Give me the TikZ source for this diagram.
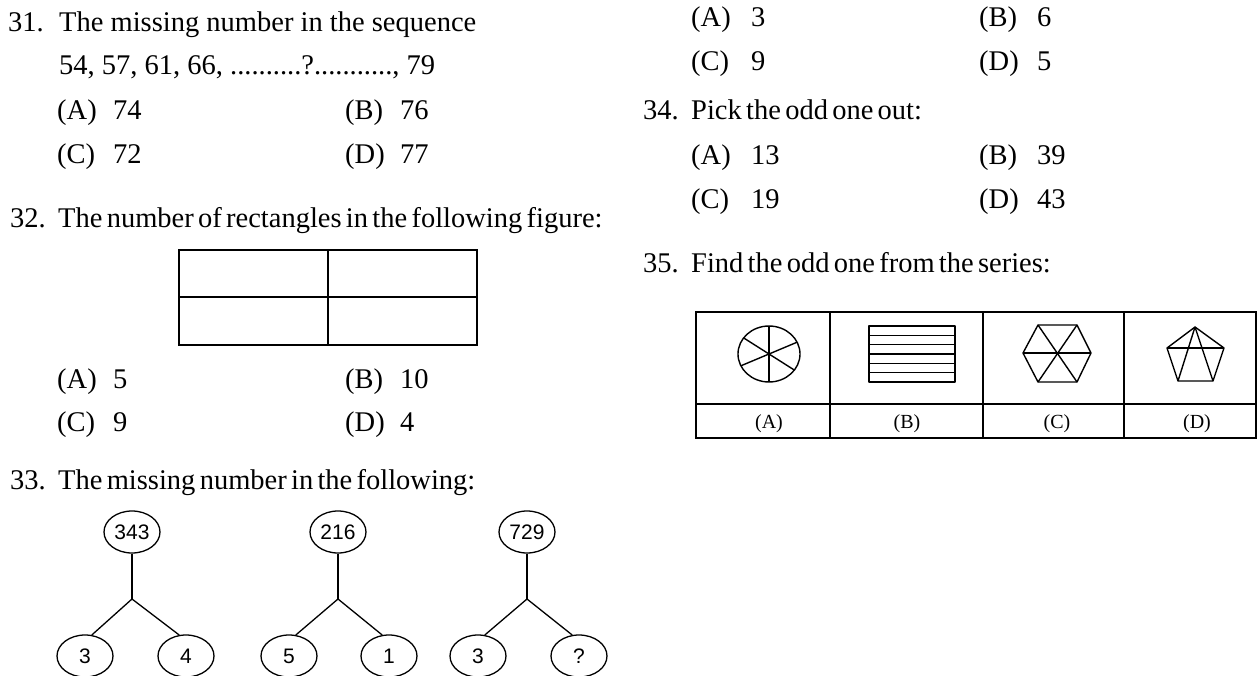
\documentclass[tikz,border=0pt]{standalone}
\usepackage{fontspec}
\setmainfont{Liberation Serif}
\newfontfamily\tightserif[WordSpace=0.6]{Liberation Serif}
\newfontfamily\treesans{Liberation Sans}
\usetikzlibrary{shapes.geometric}
\newcommand\qsize{\fontsize{28.5bp}{34bp}\selectfont}
\tikzset{
  qtext/.style={anchor=base west, inner sep=0pt, font=\qsize},
  qtight/.style={anchor=base west, inner sep=0pt, font=\tightserif\qsize},
  treenode/.style={draw, ellipse, minimum width=56bp, minimum height=42bp, inner sep=0pt, line width=1.3bp, font=\treesans\fontsize{21bp}{24bp}\selectfont},
  treeline/.style={line width=1.3bp},
  figline/.style={line width=1.8bp},
  shapeline/.style={line width=1.4bp, line join=round},
  tablabel/.style={anchor=base, inner sep=0pt, font=\fontsize{20bp}{24bp}\selectfont},
}
\begin{document}
\begin{tikzpicture}[x=1bp,y=-1bp]
\useasboundingbox[fill=white] (0,0) rectangle (1258,676);

% ---- Question 31 ----
\node[qtext] (q31n) at (8,32) {31.};
\node[qtext] (q31t) at (59,32) {The missing number in the sequence};
\node[qtext] (q31s) at (59,75) {54, 57, 61, 66, ..........?..........., 79};
\node[qtext] (q31a) at (57,120) {(A)};
\node[qtext] (q31av) at (113,120) {74};
\node[qtext] (q31b) at (345,120) {(B)};
\node[qtext] (q31bv) at (400,120) {76};
\node[qtext] (q31c) at (57,164) {(C)};
\node[qtext] (q31cv) at (113,164) {72};
\node[qtext] (q31d) at (345,164) {(D)};
\node[qtext] (q31dv) at (400,164) {77};

% ---- Question 32 ----
\node[qtext] (q32n) at (10,228) {32.};
\node[qtight] (q32t) at (58,228) {The number of rectangles in the following figure:};
\draw[figline] (179,250) rectangle (477,345);
\draw[figline] (328,250) -- (328,345);
\draw[figline] (179,297) -- (477,297);
\node[qtext] (q32a) at (57,388) {(A)};
\node[qtext] (q32av) at (113,388) {5};
\node[qtext] (q32b) at (345,388) {(B)};
\node[qtext] (q32bv) at (400,388) {10};
\node[qtext] (q32c) at (57,431) {(C)};
\node[qtext] (q32cv) at (113,431) {9};
\node[qtext] (q32d) at (345,431) {(D)};
\node[qtext] (q32dv) at (400,431) {4};

% ---- Question 33 ----
\node[qtext] (q33n) at (10,489) {33.};
\node[qtight] (q33t) at (58,489) {The missing number in the following:};

% tree 1
\node[treenode] (r1) at (132,532) {343};
\coordinate (j1) at (132,599);
\node[treenode] (c1a) at (85,656) {3};
\node[treenode] (c1b) at (186,656) {4};
\draw[treeline] (r1.south) -- (j1);
\draw[treeline] (j1) -- (c1a.72);
\draw[treeline] (j1) -- (c1b.108);
% tree 2
\node[treenode] (r2) at (338,532) {216};
\coordinate (j2) at (338,599);
\node[treenode] (c2a) at (289,656) {5};
\node[treenode] (c2b) at (389,656) {1};
\draw[treeline] (r2.south) -- (j2);
\draw[treeline] (j2) -- (c2a.72);
\draw[treeline] (j2) -- (c2b.108);
% tree 3
\node[treenode] (r3) at (527,532) {729};
\coordinate (j3) at (527,599);
\node[treenode] (c3a) at (478,656) {3};
\node[treenode] (c3b) at (579,656) {?};
\draw[treeline] (r3.south) -- (j3);
\draw[treeline] (j3) -- (c3a.72);
\draw[treeline] (j3) -- (c3b.108);

% ---- Question 33 options (right column) ----
\node[qtext] (q33a) at (691,27) {(A)};
\node[qtext] (q33av) at (751,27) {3};
\node[qtext] (q33b) at (979,27) {(B)};
\node[qtext] (q33bv) at (1037,27) {6};
\node[qtext] (q33c) at (691,71) {(C)};
\node[qtext] (q33cv) at (751,71) {9};
\node[qtext] (q33d) at (979,71) {(D)};
\node[qtext] (q33dv) at (1037,71) {5};

% ---- Question 34 ----
\node[qtext] (q34n) at (643,120) {34.};
\node[qtight] (q34t) at (691,120) {Pick the odd one out:};
\node[qtext] (q34a) at (691,165) {(A)};
\node[qtext] (q34av) at (751,165) {13};
\node[qtext] (q34b) at (979,165) {(B)};
\node[qtext] (q34bv) at (1037,165) {39};
\node[qtext] (q34c) at (691,209) {(C)};
\node[qtext] (q34cv) at (751,209) {19};
\node[qtext] (q34d) at (979,209) {(D)};
\node[qtext] (q34dv) at (1037,209) {43};

% ---- Question 35 ----
\node[qtext] (q35n) at (643,272) {35.};
\node[qtight] (q35t) at (691,272) {Find the odd one from the series:};
\draw[figline] (696,312) rectangle (1256,438);
\draw[figline] (696,404) -- (1256,404);
\draw[figline] (830,312) -- (830,438);
\draw[figline] (983,312) -- (983,438);
\draw[figline] (1124,312) -- (1124,438);
\node[tablabel] (la) at (769,428) {(A)};
\node[tablabel] (lb) at (907,428) {(B)};
\node[tablabel] (lc) at (1057,428) {(C)};
\node[tablabel] (ld) at (1197,428) {(D)};

% shape A: divided circle
\draw[shapeline] (769,354) ellipse [x radius=31, y radius=28];
\draw[shapeline] (769,326) -- (769,382);
\draw[shapeline] (743.6,337.9) -- (794.4,370.1);
\draw[shapeline] (740.9,365.8) -- (797.1,342.2);
% shape B: striped rectangle
\draw[shapeline] (869,326) rectangle (955,382);
\foreach \k in {1,...,5} {
  \draw[shapeline] (869,{326+\k*56/6}) -- (955,{326+\k*56/6});
}
% shape C: hexagon with diagonals
\draw[shapeline] (1023,353) -- (1038,325) -- (1077,325) -- (1091,353) -- (1077,382) -- (1038,382) -- cycle;
\draw[shapeline] (1023,353) -- (1091,353);
\draw[shapeline] (1038,325) -- (1077,382);
\draw[shapeline] (1077,325) -- (1038,382);
% shape D: pentagon with inner lines
\draw[shapeline] (1195,327) -- (1224,348) -- (1213,381) -- (1178,381) -- (1167,348) -- cycle;
\draw[shapeline] (1167,348) -- (1224,348);
\draw[shapeline] (1195,327) -- (1178,381);
\draw[shapeline] (1195,327) -- (1213,381);
\end{tikzpicture}
\end{document}
